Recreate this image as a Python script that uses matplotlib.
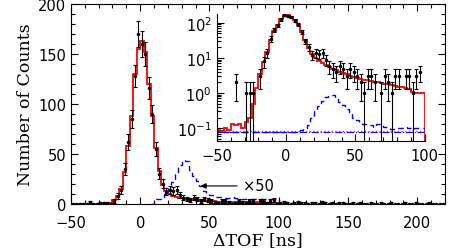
import numpy as np
import matplotlib
matplotlib.use("Agg")
import matplotlib.pyplot as plt
from matplotlib.ticker import MultipleLocator, LogLocator, NullFormatter

plt.rcParams['font.family'] = ['DejaVu Sans']
plt.rcParams['mathtext.fontset'] = 'dejavusans'

# 2.5 ns bins, -50 .. 100 (inset range)
edges = np.arange(-50, 100.01, 2.5)
centers = 0.5 * (edges[:-1] + edges[1:])

counts = [0, 0, 0, 0, 0, 2, 0, 0, 1, 1,
          1, 0, 3, 8, 14, 35, 62, 85, 128, 170,
          160, 150, 116, 90, 55, 30, 20, 12, 14, 13,
          14, 9, 6, 5, 4, 6, 5, 3, 5, 4,
          3, 2, 1, 3, 3, 2, 0, 1, 3, 2,
          1, 3, 3, 0, 3, 3, 1, 3, 4, 0]

fit = [0.09, 0.08, 0.1, 0.09, 0.13, 0.12, 0.13, 0.1, 0.15, 0.2,
       0.5, 1.4, 3.5, 7.5, 15, 32, 58, 88, 130, 155,
       163, 152, 120, 88, 56, 33, 19, 13, 10, 8,
       7, 6.3, 5.6, 5.0, 4.5, 4.1, 3.7, 3.4, 3.1, 2.9,
       2.7, 2.5, 2.4, 2.3, 2.2, 2.1, 2.0, 1.9, 1.8, 1.75,
       1.7, 1.6, 1.5, 1.45, 1.35, 1.3, 1.1, 1.0, 1.0, 1.0]

signal = [0, 0, 0, 0, 0, 0, 0, 0, 0, 0,
          0, 0, 0, 0, 0, 0, 0, 0, 0, 0,
          0, 0, 0, 0, 0.09, 0.1, 0.12, 0.2, 0.3, 0.43,
          0.6, 0.78, 0.87, 0.85, 0.68, 0.55, 0.45, 0.35, 0.25, 0.2,
          0.17, 0.15, 0.13, 0.13, 0.12, 0.11, 0.13, 0.12, 0.105, 0.1,
          0.095, 0.095, 0.1, 0.1, 0.105, 0.1, 0.095, 0.1, 0.1, 0.1]
signal_scale = 50
bkg_blue = 0.075
bkg_magenta = 0.082

# tail beyond 100 ns shown only in the main panel
edges_tail = np.arange(100, 220.01, 2.5)
centers_tail = 0.5 * (edges_tail[:-1] + edges_tail[1:])
counts_tail = [1, 2, 1, 0, 1, 2, 1, 1, 0, 1, 1, 0, 2, 1, 0, 1, 0, 1, 1, 0,
               0, 1, 0, 1, 0, 0, 1, 0, 0, 1, 0, 0, 1, 0, 0, 0, 1, 0, 0, 1,
               0, 0, 0, 1, 0, 0, 0, 0]

counts = np.array(counts, float)
fit = np.array(fit)
signal = np.array(signal)

fig = plt.figure(figsize=(4.49, 2.53), dpi=100)
ax = fig.add_axes([0.158, 0.19, 0.833, 0.79])

all_c = np.concatenate([centers, centers_tail])
all_n = np.concatenate([counts, counts_tail])
ax.errorbar(all_c, all_n, yerr=np.sqrt(all_n), fmt='o', ms=1.5, color='black',
            ecolor='black', elinewidth=0.8, capsize=1.2, capthick=0.8, zorder=3)
ax.stairs(fit, edges, color='red', lw=1.3, zorder=2)
sig_main = signal * signal_scale
ax.stairs(sig_main[23:], edges[23:], color='blue', lw=1.0, ls=(0, (4, 3)), zorder=2)

ax.set_xlim(-50, 220)
ax.set_ylim(0, 200)
ax.xaxis.set_major_locator(MultipleLocator(50))
ax.xaxis.set_minor_locator(MultipleLocator(10))
ax.yaxis.set_major_locator(MultipleLocator(50))
ax.yaxis.set_minor_locator(MultipleLocator(10))
ax.tick_params(which='both', direction='in', top=True, right=True, labelsize=10.5, width=0.8)
ax.tick_params(which='major', length=5)
ax.tick_params(which='minor', length=3)
ax.tick_params(axis='x', pad=8)
ax.set_xlabel('ΔTOF [ns]', family='DejaVu Serif', fontsize=12.5, labelpad=1)
ax.set_ylabel('Number of Counts', family='DejaVu Serif', fontsize=12.5, labelpad=3)

ax.annotate('×50', xy=(43.5, 18), xytext=(74, 18), fontsize=10.5, va='center',
            arrowprops=dict(arrowstyle='-|>', color='black', lw=0.8,
                            mutation_scale=8, shrinkA=2, shrinkB=0))

# inset, log scale
ins = fig.add_axes([0.483, 0.439, 0.463, 0.502])
ins.patch.set_alpha(0)
ins.spines['top'].set_visible(False)
ins.spines['right'].set_visible(False)
ins.stairs(fit, edges, baseline=1e-4, color='red', lw=1.3, zorder=2)
ins.stairs(np.where(signal > 0, signal, bkg_blue), edges, baseline=1e-4,
           color='blue', lw=1.0, ls=(0, (4, 3)), zorder=2)
ins.plot([-50, 100], [bkg_blue, bkg_blue], color='blue', lw=0.8, ls='-.', zorder=1)
ins.plot([-50, 100], [bkg_magenta, bkg_magenta], color='magenta', lw=1.0, ls=':', zorder=1)
m = counts > 0
ins.errorbar(centers[m], counts[m], yerr=np.sqrt(counts[m]), fmt='o', ms=1.5,
             color='black', ecolor='black', elinewidth=0.8, capsize=1.2, capthick=0.8, zorder=3)
ins.set_yscale('log')
ins.set_xlim(-50, 100)
ins.set_ylim(0.043, 180)
ins.xaxis.set_major_locator(MultipleLocator(50))
ins.xaxis.set_minor_locator(MultipleLocator(10))
ins.yaxis.set_major_locator(LogLocator(base=10, numticks=10))
ins.yaxis.set_minor_locator(LogLocator(base=10, subs=np.arange(2, 10), numticks=10))
ins.yaxis.set_minor_formatter(NullFormatter())
ins.tick_params(which='both', direction='in', labelsize=10.5, width=0.8)
ins.tick_params(which='major', length=5)
ins.tick_params(which='minor', length=3)
ins.tick_params(axis='x', pad=5)

fig.savefig('out.png', dpi=100)
